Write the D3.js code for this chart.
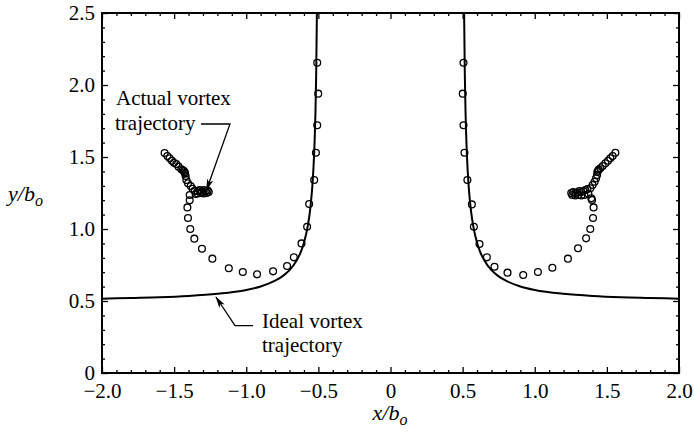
<!DOCTYPE html>
<html>
<head>
<meta charset="utf-8">
<script src="https://cdn.jsdelivr.net/npm/d3@7/dist/d3.min.js"></script>
<style>
  html, body { margin: 0; padding: 0; background: #fff; }
  svg { display: block; }
  text { font-family: "Liberation Serif", "Times New Roman", serif; fill: #000; }
</style>
</head>
<body>
<svg id="chart" width="694" height="434"></svg>
<script>
// Ideal (inviscid) vortex path near the ground, left and right branches
const idealLeftX  = [-2.0, -1.8, -1.6, -1.4, -1.2, -1.0, -0.9, -0.8, -0.75, -0.7, -0.65, -0.62, -0.6, -0.575, -0.56, -0.55, -0.54, -0.53, -0.525, -0.52, -0.515, -0.5103];
const idealLeftY  = [0.516, 0.521, 0.526, 0.535, 0.550, 0.577, 0.601, 0.641, 0.671, 0.714, 0.783, 0.845, 0.905, 1.013, 1.110, 1.200, 1.323, 1.508, 1.640, 1.820, 2.085, 2.5];
const idealRightX = [0.5103, 0.515, 0.52, 0.525, 0.53, 0.54, 0.55, 0.56, 0.575, 0.6, 0.62, 0.65, 0.7, 0.75, 0.8, 0.9, 1.0, 1.2, 1.4, 1.6, 1.8, 2.0];
const idealRightY = [2.5, 2.085, 1.820, 1.640, 1.508, 1.323, 1.200, 1.110, 1.013, 0.905, 0.845, 0.783, 0.714, 0.671, 0.641, 0.601, 0.577, 0.550, 0.535, 0.526, 0.521, 0.516];

// Measured vortex centres, port side
const actualLeftX = [-0.508, -0.501, -0.508, -0.517, -0.529, -0.564, -0.578, -0.617, -0.670, -0.717, -0.814, -0.925, -1.024, -1.121, -1.235, -1.307, -1.360, -1.388, -1.404, -1.408, -1.392, -1.392,
  -1.351, -1.337, -1.316, -1.295, -1.274, -1.260, -1.267, -1.281, -1.295, -1.309, -1.323, -1.337,
  -1.358, -1.372, -1.385, -1.404, -1.415, -1.420, -1.424, -1.427, -1.432, -1.441, -1.450, -1.469, -1.485, -1.501, -1.515, -1.531, -1.547, -1.566];
const actualLeftY = [2.155, 1.940, 1.720, 1.530, 1.340, 1.174, 1.016, 0.900, 0.803, 0.743, 0.706, 0.685, 0.701, 0.727, 0.794, 0.863, 0.933, 1.000, 1.076, 1.150, 1.199, 1.236,
  1.243, 1.247, 1.250, 1.247, 1.250, 1.257, 1.267, 1.264, 1.271, 1.260, 1.271, 1.264,
  1.266, 1.280, 1.299, 1.317, 1.340, 1.368, 1.385, 1.394, 1.403, 1.410, 1.415, 1.433, 1.451, 1.460, 1.474, 1.491, 1.507, 1.527];

// Measured vortex centres, starboard side
const actualRightX = [0.506, 0.501, 0.506, 0.513, 0.533, 0.564, 0.578, 0.617, 0.668, 0.721, 0.811, 0.920, 1.022, 1.122, 1.230, 1.300, 1.356, 1.385, 1.404, 1.408, 1.397, 1.392,
  1.372, 1.344, 1.323, 1.302, 1.281, 1.260, 1.253, 1.267, 1.281, 1.295, 1.309, 1.323, 1.337, 1.351, 1.365,
  1.385, 1.401, 1.415, 1.425, 1.432, 1.434, 1.439, 1.444, 1.455, 1.471, 1.490, 1.508, 1.524, 1.540, 1.559];
const actualRightY = [2.155, 1.940, 1.720, 1.530, 1.340, 1.171, 1.016, 0.896, 0.803, 0.738, 0.697, 0.681, 0.701, 0.731, 0.794, 0.866, 0.935, 1.000, 1.076, 1.150, 1.201, 1.213,
  1.243, 1.236, 1.233, 1.236, 1.233, 1.236, 1.250, 1.257, 1.250, 1.253, 1.264, 1.257, 1.264, 1.271, 1.278,
  1.283, 1.306, 1.328, 1.352, 1.375, 1.396, 1.405, 1.413, 1.422, 1.438, 1.456, 1.474, 1.491, 1.507, 1.530];

// Axis ticks and labels
const xMajor = [-2.0, -1.5, -1.0, -0.5, 0, 0.5, 1.0, 1.5, 2.0];
const xMajorLabels = ["\u22122.0", "\u22121.5", "\u22121.0", "\u22120.5", "0", "0.5", "1.0", "1.5", "2.0"];
const yMajor = [0, 0.5, 1.0, 1.5, 2.0, 2.5];
const yMajorLabels = ["0", "0.5", "1.0", "1.5", "2.0", "2.5"];
const xMinor = [-1.9,-1.8,-1.7,-1.6,-1.4,-1.3,-1.2,-1.1,-0.9,-0.8,-0.7,-0.6,-0.4,-0.3,-0.2,-0.1,0.1,0.2,0.3,0.4,0.6,0.7,0.8,0.9,1.1,1.2,1.3,1.4,1.6,1.7,1.8,1.9];
const yMinor = [0.1,0.2,0.3,0.4,0.6,0.7,0.8,0.9,1.1,1.2,1.3,1.4,1.6,1.7,1.8,1.9,2.1,2.2,2.3,2.4];

const svg = d3.select("#chart");
const L = 102, R = 679, T = 13, B = 373;
const x = d3.scaleLinear().domain([-2, 2]).range([L, R]);
const y = d3.scaleLinear().domain([0, 2.5]).range([B, T]);

// arrowhead marker
svg.append("defs").append("marker")
  .attr("id", "arrow").attr("viewBox", "0 0 12 8")
  .attr("refX", 11).attr("refY", 4)
  .attr("markerWidth", 12).attr("markerHeight", 8)
  .attr("markerUnits", "userSpaceOnUse")
  .attr("orient", "auto")
  .append("path").attr("d", "M0,0.8 L12,4 L0,7.2 L3,4 Z").attr("fill", "#000");

// ideal trajectory curves
const line = d3.line().x(d => x(d[0])).y(d => y(d[1])).curve(d3.curveMonotoneX);
const clip = svg.append("clipPath").attr("id", "plotclip").append("rect")
  .attr("x", L).attr("y", T).attr("width", R - L).attr("height", B - T);
[[idealLeftX, idealLeftY], [idealRightX, idealRightY]].forEach(([xs, ys]) => {
  svg.append("path")
    .datum(xs.map((v, i) => [v, ys[i]]))
    .attr("clip-path", "url(#plotclip)")
    .attr("d", line)
    .attr("fill", "none").attr("stroke", "#000").attr("stroke-width", 2);
});

// measured points
[[actualLeftX, actualLeftY], [actualRightX, actualRightY]].forEach(([xs, ys]) => {
  svg.append("g").selectAll("circle")
    .data(xs.map((v, i) => [v, ys[i]]))
    .join("circle")
    .attr("cx", d => x(d[0])).attr("cy", d => y(d[1]))
    .attr("r", 3.4)
    .attr("fill", "none").attr("stroke", "#000").attr("stroke-width", 1.3);
});

// axes: major ticks with labels, minor ticks, all pointing inward
function styleAxis(g) {
  g.select(".domain").remove();
  g.selectAll("line").attr("stroke", "#000").attr("stroke-width", 1.3);
  g.selectAll("text").style("font-size", "21px").style("font-family", '"Liberation Serif", serif');
}
svg.append("g").attr("transform", `translate(0,${B})`)
  .call(d3.axisBottom(x).tickValues(xMajor).tickSize(-6).tickPadding(10).tickFormat((d, i) => xMajorLabels[i]))
  .call(styleAxis);
svg.append("g").attr("transform", `translate(0,${B})`)
  .call(d3.axisBottom(x).tickValues(xMinor).tickSize(-3).tickFormat(""))
  .call(styleAxis);
svg.append("g").attr("transform", `translate(0,${T})`)
  .call(d3.axisTop(x).tickValues(xMajor).tickSize(-6).tickFormat(""))
  .call(styleAxis);
svg.append("g").attr("transform", `translate(0,${T})`)
  .call(d3.axisTop(x).tickValues(xMinor).tickSize(-3).tickFormat(""))
  .call(styleAxis);
svg.append("g").attr("transform", `translate(${L},0)`)
  .call(d3.axisLeft(y).tickValues(yMajor).tickSize(-6).tickPadding(7).tickFormat((d, i) => yMajorLabels[i]))
  .call(styleAxis);
svg.append("g").attr("transform", `translate(${L},0)`)
  .call(d3.axisLeft(y).tickValues(yMinor).tickSize(-3).tickFormat(""))
  .call(styleAxis);
svg.append("g").attr("transform", `translate(${R},0)`)
  .call(d3.axisRight(y).tickValues(yMajor).tickSize(-6).tickFormat(""))
  .call(styleAxis);
svg.append("g").attr("transform", `translate(${R},0)`)
  .call(d3.axisRight(y).tickValues(yMinor).tickSize(-3).tickFormat(""))
  .call(styleAxis);

// frame
svg.append("rect").attr("x", L).attr("y", T).attr("width", R - L).attr("height", B - T)
  .attr("fill", "none").attr("stroke", "#000").attr("stroke-width", 2);

// axis titles
const xt = svg.append("text").attr("x", 390).attr("y", 420).attr("text-anchor", "middle")
  .style("font-size", "22px").style("font-style", "italic");
xt.append("tspan").text("x/b");
xt.append("tspan").text("o").attr("dy", 5).style("font-size", "16px");
const yt = svg.append("text").attr("x", 8).attr("y", 201)
  .style("font-size", "22px").style("font-style", "italic");
yt.append("tspan").text("y/b");
yt.append("tspan").text("o").attr("dy", 5).style("font-size", "16px");

// annotations
const ann = svg.append("g").style("font-size", "21px");
ann.append("text").attr("x", 116).attr("y", 105).text("Actual vortex");
ann.append("text").attr("x", 115).attr("y", 130).text("trajectory");
ann.append("path")
  .attr("d", d3.line()([[201, 124], [230, 124], [206.5, 190]]))
  .attr("fill", "none").attr("stroke", "#000").attr("stroke-width", 1.3)
  .attr("marker-end", "url(#arrow)");
ann.append("text").attr("x", 262).attr("y", 328).text("Ideal vortex");
ann.append("text").attr("x", 262).attr("y", 352).text("trajectory");
ann.append("path")
  .attr("d", d3.line()([[253, 325.7], [235, 325.7], [216, 297]]))
  .attr("fill", "none").attr("stroke", "#000").attr("stroke-width", 1.3)
  .attr("marker-end", "url(#arrow)");
</script>
</body>
</html>
